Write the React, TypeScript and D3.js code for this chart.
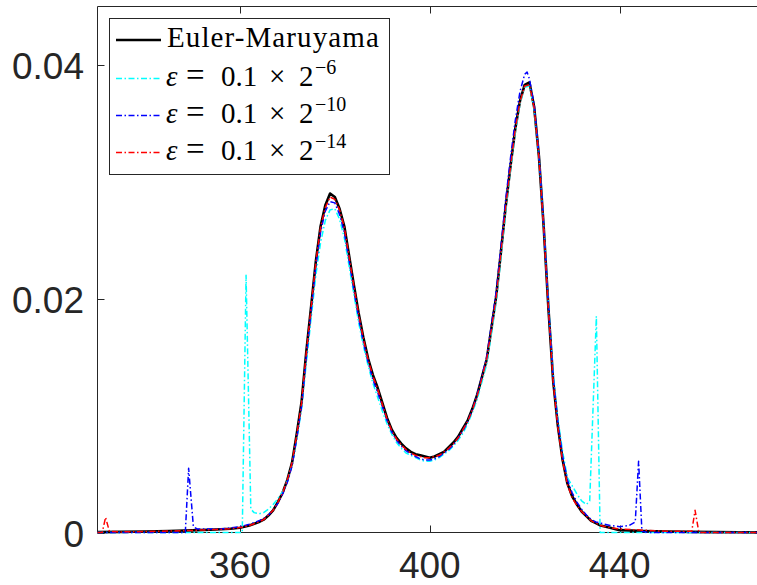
import React from "react";
import * as d3 from "d3";

const xTicks = [360, 400, 440];
const yTicks = [0, 0.02, 0.04];
const yTickLabels = ["0", "0.02", "0.04"];

const eulerPts: [number, number][] = [
  [330,0.00003],[335,0.00005],[340,0.00008],[345,0.00012],[350,0.00018],[355,0.00026],[358,0.00032],
  [360,0.0004],[362,0.0006],[364,0.0009],[365,0.0011],[366,0.00145],[367,0.0019],[368,0.0026],[369,0.0034],
  [370,0.0045],[371,0.006],[372,0.0085],[373,0.0112],[374,0.0155],[375,0.0193],[376,0.0232],[377,0.0262],
  [378,0.028],[379,0.029],[380,0.0287],[381,0.0277],[382,0.0262],[383,0.0237],[384,0.0212],[385,0.0188],
  [386,0.0167],[387,0.0149],[388,0.0135],[389,0.0124],[390,0.0111],[391,0.0098],[392,0.0088],[393,0.0081],
  [394,0.0076],[395,0.0072],[396,0.0069],[397,0.0067],[398,0.0066],[399,0.0065],[400,0.0064],[401,0.0065],
  [402,0.0067],[403,0.0069],[404,0.0073],[405,0.0077],[406,0.0082],[407,0.0089],[408,0.0096],[409,0.0106],
  [410,0.0118],[411,0.0133],[412,0.0148],[413,0.0175],[414,0.0202],[415,0.024],[416,0.0279],[417,0.0313],
  [418,0.0345],[419,0.0369],[420,0.0383],[421,0.0385],[422,0.0364],[423,0.0322],[424,0.0262],[425,0.0192],
  [426,0.013],[427,0.0091],[428,0.0062],[429,0.0042],[430,0.0031],[431,0.0024],[432,0.0018],[433,0.0014],
  [434,0.001],[435,0.0008],[436,0.0006],[438,0.0004],[440,0.0002],[445,0.00012],[450,0.00008],[455,0.00005],
  [460,0.00003],[465,0.00002],[470,0.00001]
];

const eps6Pts: [number, number][] = [
  [330,0],[340,0],[350,0],[360,0],[360.5,0],[361.3,0.022],[362.3,0.002],[363,0.0017],[364,0.0016],[365,0.0017],
  [366,0.002],[367,0.0024],[368,0.0029],[369,0.0035],[370,0.0044],[371,0.0058],[372,0.008],[373,0.0106],
  [374,0.0145],[375,0.0183],[376,0.022],[377,0.0248],[378,0.0267],[379,0.0276],[380,0.0277],[381,0.0268],
  [382,0.0252],[383,0.0228],[384,0.0204],[385,0.018],[386,0.016],[387,0.0143],[388,0.0128],[389,0.0116],
  [390,0.0104],[391,0.0093],[392,0.0084],[393,0.0077],[394,0.0072],[395,0.0068],[396,0.0066],[397,0.0064],
  [398,0.0062],[399,0.0061],[400,0.0061],[401,0.0062],[402,0.0064],[403,0.0067],[404,0.007],[405,0.0074],
  [406,0.0079],[407,0.0085],[408,0.0093],[409,0.0103],[410,0.0114],[411,0.0129],[412,0.0144],[413,0.017],
  [414,0.0197],[415,0.0235],[416,0.0274],[417,0.0309],[418,0.0341],[419,0.0366],[420,0.0381],[421,0.0382],
  [422,0.0362],[423,0.0322],[424,0.0264],[425,0.0196],[426,0.0136],[427,0.0097],[428,0.0069],[429,0.0047],
  [430,0.004],[431,0.0033],[432,0.0027],[433,0.0024],[433.7,0.0027],[435.1,0.0185],[435.9,0],[440,0],
  [450,0],[460,0],[470,0]
];

const eps10Pts: [number, number][] = [
  [330,0],[340,0],[348.5,0],[349.2,0.0055],[350.2,0.0005],[351,0.0003],[353,0.0003],[356,0.0003],[358,0.0004],
  [360,0.0005],[362,0.0007],[364,0.001],[365,0.0012],[366,0.0015],[367,0.0019],[368,0.0025],[369,0.0033],
  [370,0.0043],[371,0.0057],[372,0.0081],[373,0.0108],[374,0.015],[375,0.0189],[376,0.0228],[377,0.0257],
  [378,0.0275],[379,0.0283],[380,0.0282],[381,0.0272],[382,0.0257],[383,0.0233],[384,0.0208],[385,0.0184],
  [386,0.0163],[387,0.0146],[388,0.0131],[389,0.012],[390,0.0108],[391,0.0096],[392,0.0086],[393,0.0079],
  [394,0.0074],[395,0.007],[396,0.0067],[397,0.0065],[398,0.0063],[399,0.0062],[400,0.0062],[401,0.0063],
  [402,0.0065],[403,0.0068],[404,0.0071],[405,0.0075],[406,0.0081],[407,0.0087],[408,0.0095],[409,0.0105],
  [410,0.0118],[411,0.0134],[412,0.015],[413,0.0178],[414,0.0206],[415,0.0245],[416,0.0285],[417,0.032],
  [418,0.0352],[419,0.0377],[420,0.0392],[420.5,0.0394],[421,0.0388],[422,0.0366],[423,0.0324],[424,0.0264],
  [425,0.0195],[426,0.0133],[427,0.0094],[428,0.0065],[429,0.0045],[430,0.0034],[431,0.0026],[432,0.002],
  [433,0.0015],[434,0.0011],[435,0.0009],[436,0.0008],[438,0.0006],[440,0.0005],[442,0.0006],[443.3,0.0009],
  [444,0.0061],[444.7,0.0001],[446,0],[450,0],[460,0],[470,0]
];

const eps14Pts: [number, number][] = [
  [330,0],[331,0],[331.7,0.0013],[332.5,0.0001],[335,0.00005],[340,0.00008],[345,0.00012],[350,0.00018],
  [355,0.00026],[358,0.00033],[360,0.00042],[362,0.0006],[364,0.0009],[365,0.0011],[366,0.0015],[367,0.0019],
  [368,0.0026],[369,0.0034],[370,0.0045],[371,0.006],[372,0.0084],[373,0.0111],[374,0.0154],[375,0.0192],
  [376,0.0231],[377,0.0261],[378,0.0278],[379,0.0287],[380,0.0285],[381,0.0276],[382,0.0261],[383,0.0236],
  [384,0.0211],[385,0.0187],[386,0.0166],[387,0.0148],[388,0.0134],[389,0.0123],[390,0.011],[391,0.0097],
  [392,0.0087],[393,0.008],[394,0.0075],[395,0.0071],[396,0.0068],[397,0.0066],[398,0.0065],[399,0.0064],
  [400,0.0064],[401,0.0065],[402,0.0066],[403,0.0069],[404,0.0072],[405,0.0076],[406,0.0081],[407,0.0088],
  [408,0.0095],[409,0.0105],[410,0.0117],[411,0.0132],[412,0.0148],[413,0.0174],[414,0.0201],[415,0.0239],
  [416,0.0278],[417,0.0312],[418,0.0344],[419,0.0368],[420,0.0382],[421,0.0383],[422,0.0363],[423,0.0321],
  [424,0.0261],[425,0.0191],[426,0.0129],[427,0.009],[428,0.0061],[429,0.0041],[430,0.003],[431,0.0023],
  [432,0.0018],[433,0.0014],[434,0.001],[435,0.0008],[436,0.0006],[438,0.0004],[440,0.0003],[445,0.0002],
  [450,0.0001],[455.2,0.0001],[455.9,0.0019],[456.7,0],[460,0],[470,0]
];

const series = [
  { name: "Euler-Maruyama", pts: eulerPts, color: "#000000", width: 2.6, dash: null as string | null, exp: "" },
  { name: "eps6", pts: eps6Pts, color: "#00ffff", width: 1.5, dash: "6,2.5,1.5,2.5", exp: "\u22126" },
  { name: "eps10", pts: eps10Pts, color: "#0000ff", width: 1.5, dash: "6,2.5,1.5,2.5", exp: "\u221210" },
  { name: "eps14", pts: eps14Pts, color: "#ff0000", width: 1.5, dash: "6,2.5,1.5,2.5", exp: "\u221214" },
];

const W = 757;
const H = 585;
const axL = 97.5, axR = 762, axT = 6.5, axB = 532.5;
const axisColor = "#262626";

export default function App() {
  const x = d3.scaleLinear().domain([330, 470]).range([axL, axR]);
  const y = d3.scaleLinear().domain([0, 0.045]).range([axB, axT]);
  const line = d3.line<[number, number]>().x((d) => x(d[0])).y((d) => y(d[1]));

  const legX = 109.5, legY = 18.5, legW = 280, legH = 156;
  const rowBase = [47, 85.5, 122.5, 159.5];
  const tickFont = "'Liberation Sans', Arial, Helvetica, sans-serif";
  const serif = "'Liberation Serif', 'Times New Roman', serif";

  return (
    <svg width={W} height={H} style={{ position: "absolute", left: 0, top: 0, background: "#fff" }}>
      <defs>
        <clipPath id="plotclip">
          <rect x={axL - 2} y={axT - 2} width={axR - axL + 4} height={axB - axT + 6} />
        </clipPath>
      </defs>
      <rect x={0} y={0} width={W} height={H} fill="#fff" />
      <g stroke={axisColor} strokeWidth={1} fill="none">
        <line x1={axL} y1={axT} x2={axR} y2={axT} />
        <line x1={axL} y1={axB} x2={axR} y2={axB} />
        <line x1={axL} y1={axT} x2={axL} y2={axB} />
        {xTicks.map((t) => (
          <g key={"xt" + t}>
            <line x1={Math.round(x(t)) + 0.5} y1={axB} x2={Math.round(x(t)) + 0.5} y2={axB - 7} />
            <line x1={Math.round(x(t)) + 0.5} y1={axT} x2={Math.round(x(t)) + 0.5} y2={axT + 7} />
          </g>
        ))}
        {yTicks.map((t) => (
          <line key={"yt" + t} x1={axL} y1={Math.round(y(t)) + 0.5} x2={axL + 7} y2={Math.round(y(t)) + 0.5} />
        ))}
      </g>
      <g fill={axisColor} fontFamily={tickFont} fontSize={37}>
        {xTicks.map((t) => (
          <text key={"xl" + t} x={x(t)} y={578} textAnchor="middle">
            {t}
          </text>
        ))}
        {yTicks.map((t, i) => (
          <text key={"yl" + t} x={84} y={y(t) + 14} textAnchor="end">
            {yTickLabels[i]}
          </text>
        ))}
      </g>
      <g clipPath="url(#plotclip)">
        {series.map((s) => (
          <path
            key={s.name}
            d={line(s.pts) || ""}
            fill="none"
            stroke={s.color}
            strokeWidth={s.width}
            strokeDasharray={s.dash || undefined}
            strokeLinejoin="round"
          />
        ))}
      </g>
      <rect x={legX} y={legY} width={legW} height={legH} fill="#fff" stroke={axisColor} strokeWidth={1} />
      {series.map((s, i) => (
        <g key={"leg" + s.name}>
          <line
            x1={116}
            x2={161}
            y1={rowBase[i] - 7}
            y2={rowBase[i] - 7}
            stroke={s.color}
            strokeWidth={s.width}
            strokeDasharray={s.dash || undefined}
          />
          {i === 0 ? (
            <text x={167} y={rowBase[i]} fontFamily={serif} fontSize={29} letterSpacing={1.1} fill="#000">
              {s.name}
            </text>
          ) : (
            <text y={rowBase[i]} fontFamily={serif} fontSize={29} fill="#000">
              <tspan x={166} fontStyle="italic">{"\u03b5"}</tspan>
              <tspan x={186} fontSize={33}>=</tspan>
              <tspan x={221}>0.1</tspan>
              <tspan x={269}>{"\u00d7"}</tspan>
              <tspan x={299}>2</tspan>
              <tspan x={315} dy={-12} fontSize={20}>{s.exp}</tspan>
            </text>
          )}
        </g>
      ))}
    </svg>
  );
}
